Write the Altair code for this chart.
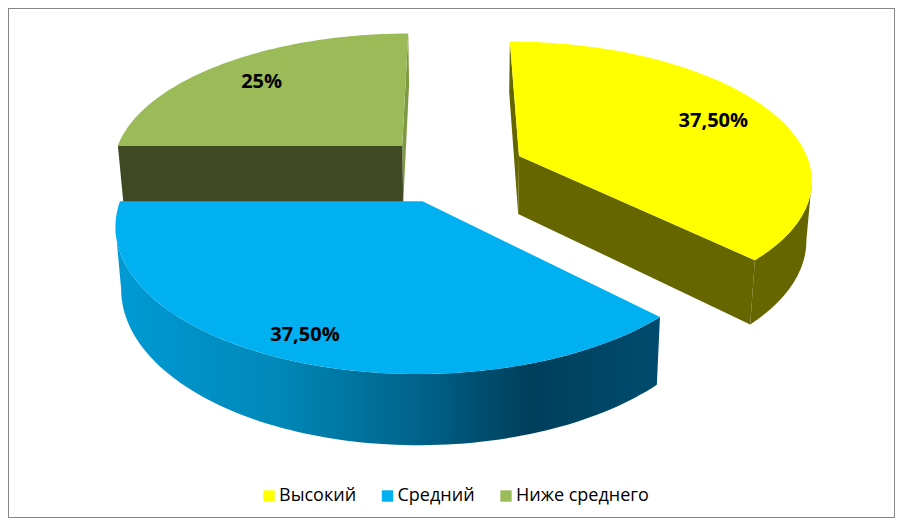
import math
import altair as alt
import pandas as pd

categories = ["Высокий", "Средний", "Ниже среднего"]
shares = [37.5, 37.5, 25.0]
labels = ["37,50%", "37,50%", "25%"]
colors = ["#FFFF00", "#00B0F0", "#9BBB59"]
label_radius = [0.775, 0.86, 0.775]
side_nudge = [0.0, -0.004, 0.0]

W, H = 887, 510
EXPLODE = 0.25
wall_yellow = "#666600"
wall_green = "#3F4A25"
edge_green = "#7D9A42"


def top(u, v):
    w = 0.00112 + 0.00017 * v
    return 449 + (0.327 * u + 0.004) / w, 1 / w - 724


def bottom(u, v):
    w = 0.001051 + 0.000159 * v
    return 449 + (0.302 * u + 0.004) / w, 1 / w - 724


def polar(a, r, du, dv):
    return du + r * math.sin(math.radians(a)), dv + r * math.cos(math.radians(a))


spans = []
start = 0.0
for s, nudge in zip(shares, side_nudge):
    end = start + s * 3.6
    mid = math.radians((start + end) / 2)
    spans.append((start, end, EXPLODE * math.sin(mid) + nudge, EXPLODE * math.cos(mid)))
    start = end


def arc(i, f, a0=None, a1=None):
    s, e, du, dv = spans[i]
    a0 = s if a0 is None else a0
    a1 = e if a1 is None else a1
    n = 90
    return [f(*polar(a0 + (a1 - a0) * k / n, 1, du, dv)) for k in range(n + 1)]


def tangent_angle(i, sign):
    """Angle at which the rim reaches its horizontal extreme: the silhouette edge of the wall."""
    s, e, du, dv = spans[i]
    angles = [s + (e - s) * k / 180 for k in range(181)]
    return max(angles, key=lambda a: sign * top(*polar(a, 1, du, dv))[0])


def apex(i, f):
    return f(spans[i][2], spans[i][3])


def frame(points):
    return pd.DataFrame({"x": [p[0] for p in points], "y": [p[1] for p in points],
                         "i": list(range(len(points)))})


xs = alt.Scale(domain=[8, 8 + W], range=[0, W], nice=False, zero=False)
ys = alt.Scale(domain=[8, 8 + H], range=[0, H], nice=False, zero=False)


def face(points, fill):
    return alt.Chart(frame(points)).mark_line(fill=fill, strokeOpacity=0, clip=False).encode(
        x=alt.X("x:Q", scale=xs, axis=None),
        y=alt.Y("y:Q", scale=ys, axis=None),
        order=alt.Order("i:Q"),
    )


def radial_wall(i, angle):
    s, e, du, dv = spans[i]
    outer = polar(angle, 1, du, dv)
    return [top(du, dv), top(*outer), bottom(*outer), bottom(du, dv)]


layers = []
# green slice
layers.append(face(radial_wall(2, spans[2][1]), edge_green))
layers.append(face(radial_wall(2, spans[2][0]), wall_green))
layers.append(face(arc(2, top) + [apex(2, top)], colors[2]))
# yellow slice
ty = tangent_angle(0, 1)
layers.append(face(radial_wall(0, spans[0][0]), wall_yellow))
layers.append(face(radial_wall(0, spans[0][1]), wall_yellow))
layers.append(face(arc(0, top, ty, 135) + arc(0, bottom, ty, 135)[::-1], wall_yellow))
layers.append(face(arc(0, top) + [apex(0, top)], colors[0]))
# blue slice
tb = tangent_angle(1, -1)
blue_side = alt.LinearGradient(
    gradient="linear",
    stops=[
        alt.GradientStop(offset=0.0, color="#009AD4"),
        alt.GradientStop(offset=0.3, color="#0088B8"),
        alt.GradientStop(offset=0.55, color="#00648C"),
        alt.GradientStop(offset=0.76, color="#003F5C"),
        alt.GradientStop(offset=1.0, color="#004C6E"),
    ],
    x1=0, x2=1, y1=0, y2=0,
)
layers.append(face(arc(1, top, 135, tb) + arc(1, bottom, 135, tb)[::-1], blue_side))
layers.append(face(arc(1, top) + [apex(1, top)], colors[1]))

# labels
rows = []
for i, cat in enumerate(categories):
    s, e, du, dv = spans[i]
    px, py = top(*polar((s + e) / 2, label_radius[i], du, dv))
    rows.append({"cat": cat, "label": labels[i], "x": px, "y": py})
label_df = pd.DataFrame(rows)

layers.append(
    alt.Chart(label_df).mark_text(font="Open Sans", fontWeight="bold", fontSize=20, color="#000000", dy=2).encode(
        x=alt.X("x:Q", scale=xs, axis=None),
        y=alt.Y("y:Q", scale=ys, axis=None),
        text="label:N",
    )
)
# legend carrier
layers.append(
    alt.Chart(label_df).mark_point(filled=True, shape="square", size=0).encode(
        x=alt.X("x:Q", scale=xs, axis=None),
        y=alt.Y("y:Q", scale=ys, axis=None),
        color=alt.Color(
            "cat:N",
            scale=alt.Scale(domain=categories, range=colors),
            sort=categories,
            legend=alt.Legend(
                title=None, orient="none", legendX=252, legendY=479, direction="horizontal",
                columns=3, symbolType="square", symbolSize=130, symbolOpacity=1, symbolStrokeWidth=0,
                labelFont="Open Sans", labelFontSize=18, labelColor="#000000", labelOffset=1,
                columnPadding=21.5, padding=0, labelLimit=300,
            ),
        ),
    )
)

chart = alt.layer(*layers).properties(
    width=W, height=H, padding=0, background="#FFFFFF",
    autosize=alt.AutoSizeParams(type="none"),
).configure_view(stroke="#868686", strokeWidth=2)

chart.save("out.html", embed_options={"renderer": "svg", "actions": False})
